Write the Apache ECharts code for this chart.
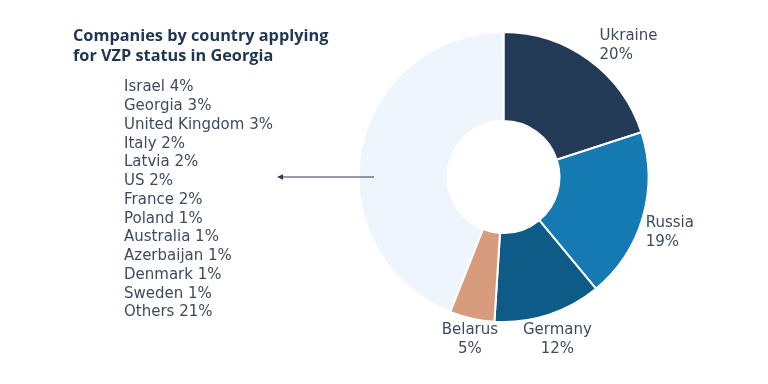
<!DOCTYPE html>
<html>
<head>
<meta charset="utf-8">
<script src="https://cdn.jsdelivr.net/npm/echarts@6/dist/echarts.min.js"></script>
<style>
html,body{margin:0;padding:0;background:#fff;}
#c{width:768px;height:384px;}
</style>
</head>
<body>
<div id="c"></div>
<script>
// ---- data ----
var titleText = "Companies by country applying\nfor VZP status in Georgia";
var mainNames = ["Ukraine", "Russia", "Germany", "Belarus"];
var mainValues = [20, 19, 12, 5];
var otherNames = ["Israel", "Georgia", "United Kingdom", "Italy", "Latvia", "US", "France", "Poland", "Australia", "Azerbaijan", "Denmark", "Sweden", "Others"];
var otherValues = [4, 3, 3, 2, 2, 2, 2, 1, 1, 1, 1, 1, 21];

// ---- styles ----
var sliceColors = ["#223A55", "#147AB1", "#0D5B86", "#D79C7D"];
var restColor = "#EEF5FD";
var labelColor = "#3E4B5D";
var bodyFont = "DejaVu Sans";
var labelAlign = ["left", "left", "center", "center"];
var labelShift = [[2, -2], [-11.5, 10.5], [-30, 10], [29.5, 6]];

var restTotal = otherValues.reduce(function (a, b) { return a + b; }, 0);

var pieData = mainNames.map(function (n, i) {
  return {
    name: n,
    value: mainValues[i],
    itemStyle: { color: sliceColors[i] },
    label: {
      show: true,
      formatter: labelAlign[i] === "center" ? "{c|{b}}\n{c|{c}%}" : "{l|{b}}\n{l|{c}%}"
    }
  };
});
pieData.push({
  name: "Rest",
  value: restTotal,
  itemStyle: { color: restColor },
  label: { show: false }
});

var listText = otherNames.map(function (n, i) { return n + " " + otherValues[i] + "%"; }).join("\n");

var chart = echarts.init(document.getElementById("c"), null, { renderer: "canvas" });
chart.setOption({
  backgroundColor: "#ffffff",
  animation: false,
  title: [
    {
      text: titleText,
      left: 73,
      top: 26,
      padding: 0,
      textStyle: {
        fontFamily: "Open Sans",
        fontWeight: 700,
        fontSize: 16.3,
        lineHeight: 20,
        color: "#1F3551"
      }
    },
    {
      text: listText,
      left: 124,
      top: 78,
      padding: 0,
      textStyle: {
        fontFamily: bodyFont,
        fontWeight: "normal",
        fontSize: 15,
        lineHeight: 18.75,
        color: labelColor
      }
    }
  ],
  series: [
    {
      type: "pie",
      center: [503.5, 177],
      radius: [56, 145],
      startAngle: 90,
      clockwise: true,
      avoidLabelOverlap: false,
      itemStyle: { borderColor: "#ffffff", borderWidth: 2 },
      emphasis: { disabled: true },
      label: {
        position: "outside",
        distanceToLabelLine: 0,
        fontFamily: bodyFont,
        fontSize: 15,
        color: labelColor,
        rich: {
          l: { fontFamily: bodyFont, fontSize: 15, lineHeight: 19, color: labelColor, align: "left" },
          c: { fontFamily: bodyFont, fontSize: 15, lineHeight: 19, color: labelColor, align: "center" }
        }
      },
      labelLine: { show: false, length: 15, length2: 0 },
      labelLayout: function (p) {
        var s = labelShift[p.dataIndex] || [0, 0];
        return { dx: s[0], dy: s[1] };
      },
      data: pieData
    }
  ],
  graphic: [
    {
      type: "line",
      z: 100,
      shape: { x1: 279, y1: 177, x2: 374, y2: 177 },
      style: { stroke: "#2B3B4F", lineWidth: 1.2 }
    },
    {
      type: "polygon",
      z: 100,
      shape: { points: [[277, 177], [283, 174.3], [283, 179.7]] },
      style: { fill: "#2B3B4F" }
    }
  ]
});
</script>
</body>
</html>
